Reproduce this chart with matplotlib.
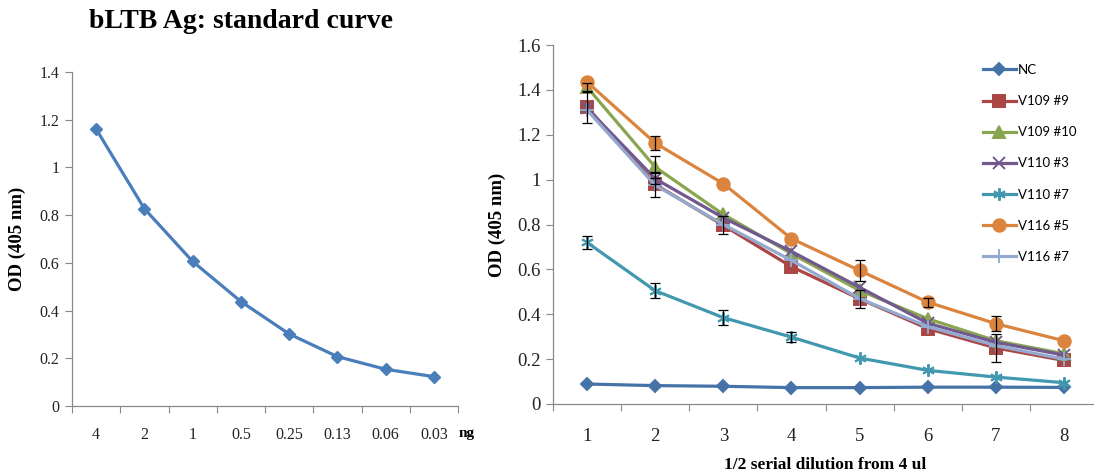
import matplotlib
matplotlib.use("Agg")
import matplotlib.pyplot as plt
import numpy as np

# left panel: standard curve
std_labels = ["4", "2", "1", "0.5", "0.25", "0.13", "0.06", "0.03"]
std_od = [1.161, 0.827, 0.606, 0.438, 0.302, 0.207, 0.154, 0.123]

# right panel: serial dilutions
dilutions = ["1", "2", "3", "4", "5", "6", "7", "8"]
series_names = ["NC", "V109 #9", "V109 #10", "V110 #3", "V110 #7", "V116 #5", "V116 #7"]
nc = [0.089, 0.082, 0.079, 0.073, 0.073, 0.075, 0.075, 0.074]
v109_9 = [1.323, 0.979, 0.796, 0.612, 0.469, 0.336, 0.250, 0.194]
v109_10 = [1.412, 1.056, 0.845, 0.670, 0.506, 0.380, 0.282, 0.224]
v110_3 = [1.318, 1.004, 0.830, 0.680, 0.520, 0.360, 0.275, 0.218]
v110_7 = [0.720, 0.505, 0.385, 0.298, 0.205, 0.150, 0.120, 0.095]
v116_5 = [1.435, 1.163, 0.982, 0.737, 0.595, 0.454, 0.358, 0.282]
v116_7 = [1.310, 0.975, 0.800, 0.640, 0.470, 0.345, 0.260, 0.200]

# visible error bars (0 = hidden behind marker)
err_nc = [0, 0, 0, 0, 0, 0, 0, 0]
err_v109_9 = [0.07, 0.055, 0.04, 0, 0.04, 0, 0.063, 0]
err_v109_10 = [0.02, 0.05, 0, 0, 0, 0, 0, 0]
err_v110_3 = [0, 0.025, 0, 0, 0, 0, 0, 0]
err_v110_7 = [0.028, 0.034, 0.033, 0.022, 0, 0, 0, 0]
err_v116_5 = [0, 0.03, 0, 0, 0.048, 0.02, 0.033, 0]
err_v116_7 = [0, 0, 0, 0, 0, 0, 0, 0]

values = [nc, v109_9, v109_10, v110_3, v110_7, v116_5, v116_7]
errors = [err_nc, err_v109_9, err_v109_10, err_v110_3, err_v110_7, err_v116_5, err_v116_7]
colors = ["#4572A7", "#AA4643", "#89A54E", "#71588F", "#4198AF", "#DB843D", "#93A9CF"]
markers = ["D", "s", "^", "x", (6, 2, 0), "o", "+"]
msizes = [6, 8, 8, 8, 9, 9, 10]

W, H = 1094, 475
fig = plt.figure(figsize=(W / 100, H / 100), dpi=100)

SERIF = "Liberation Serif"
TICK_COLOR = "#222222"
SPINE = "#888888"


def px_axes(x0, y_top, x1, y_bot):
    return fig.add_axes([x0 / W, 1 - y_bot / H, (x1 - x0) / W, (y_bot - y_top) / H])


def style_category_axis(ax, labels, fontsize, pad):
    n = len(labels)
    ax.set_xlim(-0.5, n - 0.5)
    ax.set_xticks(np.arange(n + 1) - 0.5)
    ax.set_xticklabels([])
    ax.set_xticks(np.arange(n), minor=True)
    ax.set_xticklabels(labels, minor=True, fontfamily=SERIF, fontsize=fontsize, color=TICK_COLOR)
    ax.tick_params(axis="x", which="major", direction="out", length=5, width=0.8, color=SPINE)
    ax.tick_params(axis="x", which="minor", length=0, pad=pad)
    ax.tick_params(axis="y", direction="out", length=5, width=0.8, color=SPINE,
                   labelsize=fontsize, labelcolor=TICK_COLOR, pad=4)
    for lab in ax.get_yticklabels():
        lab.set_fontfamily(SERIF)
    for side in ("top", "right"):
        ax.spines[side].set_visible(False)
    for side in ("left", "bottom"):
        ax.spines[side].set_color(SPINE)
        ax.spines[side].set_linewidth(0.9)


def fmt(v, _=None):
    return "0" if v == 0 else ("1" if v == 1 else f"{v:g}")


# ---- left panel ----
ax1 = px_axes(72, 72, 458, 406)
x = np.arange(len(std_labels))
ax1.plot(x, std_od, color="#4A7EBB", linewidth=2.3, marker="D", markersize=6.5,
         markerfacecolor="#4A7EBB", markeredgecolor="#4A7EBB")
ax1.set_ylim(0, 1.4)
ax1.set_yticks([0, 0.2, 0.4, 0.6, 0.8, 1.0, 1.2, 1.4])
ax1.yaxis.set_major_formatter(plt.FuncFormatter(fmt))
style_category_axis(ax1, std_labels, 11.5, 15)
ax1.set_ylabel("OD (405 nm)", fontfamily=SERIF, fontweight="bold", fontsize=13.5, labelpad=10)
fig.text(467 / W, 1 - 434 / H, "ng", fontfamily=SERIF, fontweight="bold", fontsize=11,
         ha="center", va="center")
fig.text(241 / W, 1 - 22 / H, "bLTB Ag: standard curve", fontfamily=SERIF, fontweight="bold",
         fontsize=20, ha="center", va="center")

# ---- right panel ----
ax2 = px_axes(553, 45, 1098, 404)
x = np.arange(len(dilutions))
handles = []
for name, vals, errs, c, m, ms in zip(series_names, values, errors, colors, markers, msizes):
    h, = ax2.plot(x, vals, color=c, linewidth=2.3, marker=m, markersize=ms,
                  markerfacecolor=c, markeredgecolor=c, markeredgewidth=1.4, label=name)
    handles.append(h)
    idx = [i for i, e in enumerate(errs) if e > 0]
    if idx:
        ax2.errorbar([x[i] for i in idx], [vals[i] for i in idx], yerr=[errs[i] for i in idx],
                     fmt="none", ecolor="black", elinewidth=0.9, capsize=3.5, capthick=0.9,
                     zorder=5)
ax2.set_ylim(0, 1.6)
ax2.set_yticks([0, 0.2, 0.4, 0.6, 0.8, 1.0, 1.2, 1.4, 1.6])
ax2.yaxis.set_major_formatter(plt.FuncFormatter(fmt))
style_category_axis(ax2, dilutions, 13.5, 17)
ax2.set_ylabel("OD (405 nm)", fontfamily=SERIF, fontweight="bold", fontsize=13.5, labelpad=8)
ax2.set_xlabel("1/2 serial dilution from 4 ul", fontfamily=SERIF, fontweight="bold",
               fontsize=12.5, labelpad=9)

fig.legend(handles=handles, loc="upper left", bbox_to_anchor=(983 / W, 1 - 64 / H),
           frameon=False, borderpad=0, borderaxespad=0, handlelength=2.5, handletextpad=0.15,
           labelspacing=1.45, prop={"family": "Lato", "size": 9.5})

fig.savefig("out.png", dpi=100)
